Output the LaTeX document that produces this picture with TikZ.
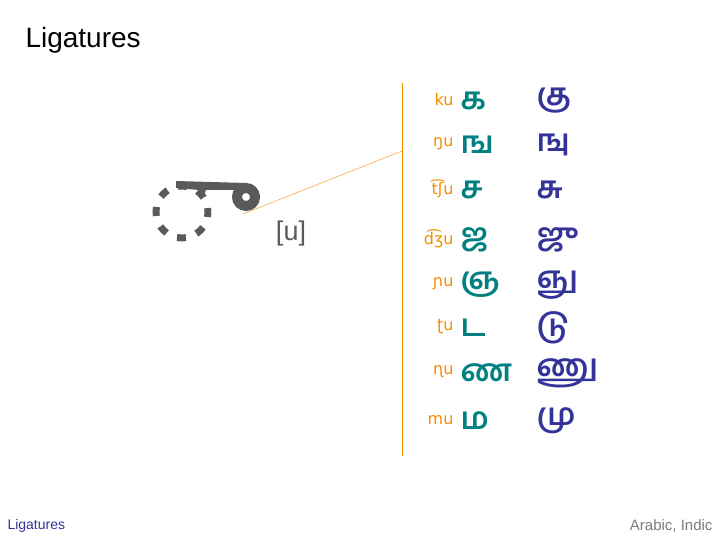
\documentclass[tikz,border=0pt]{standalone}
\usepackage{fontspec}
\setmainfont{Liberation Sans}
\newfontfamily\tam[Script=Tamil]{Hind Madurai}
\newfontfamily\ipa{DejaVu Sans}
\definecolor{teal2}{RGB}{0,128,128}
\definecolor{navy2}{RGB}{51,51,153}
\definecolor{orng}{RGB}{245,140,0}
\definecolor{gry}{RGB}{90,90,90}
\begin{document}
\begin{tikzpicture}[x=1pt,y=-1pt,
 ipa/.style={anchor=east,text=orng,font=\ipa\fontsize{16}{16}\selectfont},
 cons/.style={anchor=west,text=teal2,font=\tam\bfseries\fontsize{31}{31}\selectfont},
 lig/.style={anchor=west,text=navy2,font=\tam\bfseries\fontsize{31}{31}\selectfont}]
\useasboundingbox (0,0) rectangle (720,540);
\node[anchor=west,font=\fontsize{28}{28}\selectfont] (title) at (22,40) {Ligatures};
\draw[gry,line width=7pt,dash pattern=on 9pt off 11.4pt,dash phase=4pt] (182,212) circle (26);
\fill[gry] (176,181) -- (246,183) -- (246,190) -- (206,190) -- (203,197) -- (199,197) -- (199,190) -- (176,188) -- cycle;
\draw[gry,line width=10pt] (246,197) circle (9);
\node[text=gry,font=\fontsize{27}{27}\selectfont] (u) at (291,234) {[u]};
\coordinate (vt) at (402,83);
\coordinate (vb) at (402,456);
\draw[orng] (vt) -- (vb);
\coordinate (a) at (243,214);
\coordinate (b) at (402,151);
\draw[orng] (a) -- (b);
\foreach \y/\i/\c/\l [count=\n] in {98/ku/க/கு,142/ŋu/ங/ஙு,187/t͡ʃu/ச/சு,237/d͡ʒu/ஜ/ஜு,282/ɲu/ஞ/ஞு,325/ʈu/ட/டு,370/ɳu/ண/ணு,418/mu/ம/மு}{
 \node[ipa] (i\n) at (457,\y+2) {\i};
 \node[cons] (c\n) at (457,\y+3) {\c};
 \node[lig] (l\n) at (533,\y+3) {\l};
}
\node[anchor=west,text=navy2,font=\fontsize{14}{14}\selectfont] (f1) at (4,526) {Ligatures};
\node[anchor=east,text=gry!80,font=\fontsize{15}{15}\selectfont] (f2) at (716,526) {Arabic, Indic};
\end{tikzpicture}
\end{document}
